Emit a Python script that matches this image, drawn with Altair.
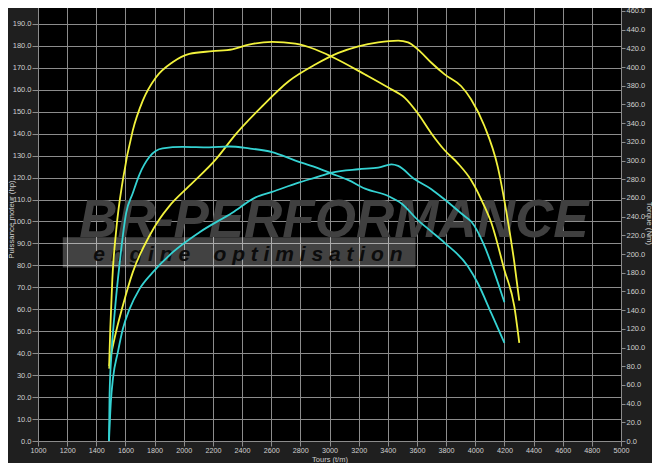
import altair as alt
import pandas as pd

# ---------------- data ----------------
rpm_tuned_power = [1488, 1496, 1526, 1582, 1650, 1765, 1833, 1901, 2038, 2220, 2356, 2538, 2720,
                   2902, 3061, 3198, 3334, 3471, 3539, 3608, 3699, 3790, 3904, 3972, 4063, 4154,
                   4222, 4268, 4302]
hp_tuned = [33, 37, 47, 61.6, 76.8, 93.5, 101, 107, 116.2, 128.3, 139.7, 152.5, 163.9,
            171.5, 176.8, 179.8, 181.6, 182.4, 181.6, 178.3, 172.3, 167, 161.6, 155.6, 143.5, 125,
            101, 81.4, 63.9]

rpm_tuned_torque = [1488, 1496, 1510, 1537, 1582, 1650, 1719, 1810, 1923, 2038, 2197, 2333, 2447,
                    2606, 2766, 2900, 3016, 3244, 3403, 3517, 3608, 3699, 3790, 3881, 3972, 4063,
                    4109, 4200, 4268, 4302]
nm_tuned = [80, 120, 173, 226, 279, 332, 364, 389, 405, 414, 417, 419, 424,
            427, 425, 419, 411, 392, 378, 367, 350, 329, 311, 297, 279, 251,
            234, 183, 144, 105]

rpm_stock_power = [1487, 1500, 1514, 1548, 1582, 1628, 1696, 1787, 1923, 2106, 2333, 2493, 2606,
                   2788, 2902, 3016, 3198, 3334, 3425, 3471, 3585, 3699, 3790, 3926, 3972, 4063,
                   4131, 4200]
hp_stock = [0, 18, 28.3, 40.5, 51, 60.1, 69.2, 76.8, 85.9, 95, 104, 111, 113.5,
            117.7, 120, 122.3, 123.8, 124.5, 126, 125.3, 119.2, 114.7, 110, 102.5, 100, 88.9,
            76.8, 63.2]

rpm_stock_torque = [1487, 1491, 1503, 1526, 1560, 1605, 1650, 1696, 1765, 1855, 1992, 2174, 2311,
                    2447, 2606, 2766, 2902, 3016, 3130, 3244, 3403, 3494, 3608, 3699, 3790, 3949,
                    4017, 4109, 4200]
nm_stock = [0, 48.5, 91, 137, 190, 244, 265, 285, 304, 313, 314.5, 314, 315,
            313, 309, 300, 293, 286, 279, 270, 262, 254, 236, 224, 212, 187,
            169, 137, 105]

curve_names = ["Puissance modifiée", "Puissance origine", "Couple modifié", "Couple origine"]
curve_colors = ["#f2f23c", "#35d3d3", "#f2f23c", "#35d3d3"]

x_ticks = list(range(1000, 5001, 200))
hp_ticks = list(range(0, 201, 10)) + [200.9]
nm_ticks = list(range(0, 461, 20)) + [471.7]

# watermark (logo) placed in chart units
NB = "\u00a0"
wm_band_rpm = [1170, 3590]
wm_band_hp = [79.0, 92.8]
wm_text = ["BR-PERFORMANCE",
           NB.join("engine") + NB * 4 + NB.join("optimisation")]
wm_text_rpm = [3030, 2440]
wm_text_hp = [93.0, 81.8]

# ---------------- tables ----------------
def frame(rpm, vals, name, col):
    return pd.DataFrame({"rpm": rpm, col: vals, "curve": name})

power_df = pd.concat([frame(rpm_tuned_power, hp_tuned, curve_names[0], "hp"),
                      frame(rpm_stock_power, hp_stock, curve_names[1], "hp")])
torque_df = pd.concat([frame(rpm_tuned_torque, nm_tuned, curve_names[2], "nm"),
                       frame(rpm_stock_torque, nm_stock, curve_names[3], "nm")])
band_df = pd.DataFrame({"rpm": [wm_band_rpm[0]], "rpm2": [wm_band_rpm[1]],
                        "hp": [wm_band_hp[0]], "hp2": [wm_band_hp[1]]})
logo_df = pd.DataFrame({"rpm": [wm_text_rpm[0]], "hp": [wm_text_hp[0]], "t": [wm_text[0]]})
tag_df = pd.DataFrame({"rpm": [wm_text_rpm[1]], "hp": [wm_text_hp[1]], "t": [wm_text[1]]})

GRID = "#8c8c8c"
W, H = 583, 441

x_enc = alt.X("rpm:Q", title="Tours (t/m)",
              scale=alt.Scale(domain=[1000, 5000], nice=False, zero=False),
              axis=alt.Axis(values=x_ticks, format="d", grid=True, tickSize=5, labelPadding=0.5,
                            labelFontSize=7.2, labelFlush=False, labelOverlap=False, domain=False,
                            titleX=W / 2, titleY=20.3, titleBaseline="alphabetic",
                            titleAlign="center", titleFontSize=7.5))

hp_scale = alt.Scale(domain=[0, 200.9], nice=False, zero=False)
left_axis = alt.Axis(values=hp_ticks, format=".1f", grid=True, tickSize=6, labelPadding=1,
                     labelOverlap=False, labelFlush=False, labelBound=False, domain=False,
                     titleX=-24.4, titleY=219, titleAngle=270, titleBaseline="alphabetic",
                     titleAlign="center", titleFontSize=7.8)
y_hp = alt.Y("hp:Q", title="Puissance moteur (hp)", scale=hp_scale, axis=left_axis)

color_enc = alt.Color("curve:N", scale=alt.Scale(domain=curve_names, range=curve_colors), legend=None)

band = alt.Chart(band_df).mark_rect(color="#ffffff", opacity=0.26).encode(
    x=x_enc, x2="rpm2:Q", y=y_hp, y2="hp2:Q")
logo = alt.Chart(logo_df).mark_text(font="Liberation Sans", fontSize=53, fontWeight="bold",
                                    fontStyle="italic", color="#404040", align="center",
                                    baseline="alphabetic").encode(x=x_enc, y=y_hp, text="t:N")
tag = alt.Chart(tag_df).mark_text(font="Liberation Sans", fontSize=21, fontWeight="bold",
                                  fontStyle="italic", color="#0c0c0c", align="center",
                                  baseline="alphabetic").encode(x=x_enc, y=y_hp, text="t:N")

power_lines = alt.Chart(power_df).mark_line(strokeWidth=1.8, interpolate="monotone").encode(
    x=x_enc, y=y_hp, color=color_enc, detail="curve:N")

power_group = alt.layer(band, logo, tag, power_lines)

torque_lines = alt.Chart(torque_df).mark_line(strokeWidth=1.8, interpolate="monotone").encode(
    x=x_enc,
    y=alt.Y("nm:Q", title="Torque (Nm)",
            scale=alt.Scale(domain=[0, 471.7], nice=False, zero=False),
            axis=alt.Axis(orient="right", values=nm_ticks, format=".1f", grid=False, tickSize=4,
                          labelPadding=1, labelOverlap=False, labelFlush=False, labelBound=False,
                          domain=False, titleX=25, titleY=223, titleAngle=90,
                          titleBaseline="alphabetic", titleAlign="center", titleFontSize=7.8)),
    color=color_enc, detail="curve:N")

chart = alt.layer(power_group, torque_lines).resolve_scale(y="independent").properties(
    width=W, height=H,
    padding={"top": -8, "left": 30, "right": 31, "bottom": 22},
    autosize=alt.AutoSizeParams(type="none"),
    background="#1f1f1f",
).configure_view(fill="#000000", stroke=None).configure_axis(
    labelFont="Liberation Sans", labelFontSize=7.5, labelColor="#d0d0d0",
    titleFont="Liberation Sans", titleFontSize=8, titleFontWeight="normal", titleColor="#d0d0d0",
    tickColor=GRID, gridColor=GRID, gridWidth=1, gridOpacity=1,
)

chart.save("out.html", embed_options={"renderer": "svg", "actions": False})
